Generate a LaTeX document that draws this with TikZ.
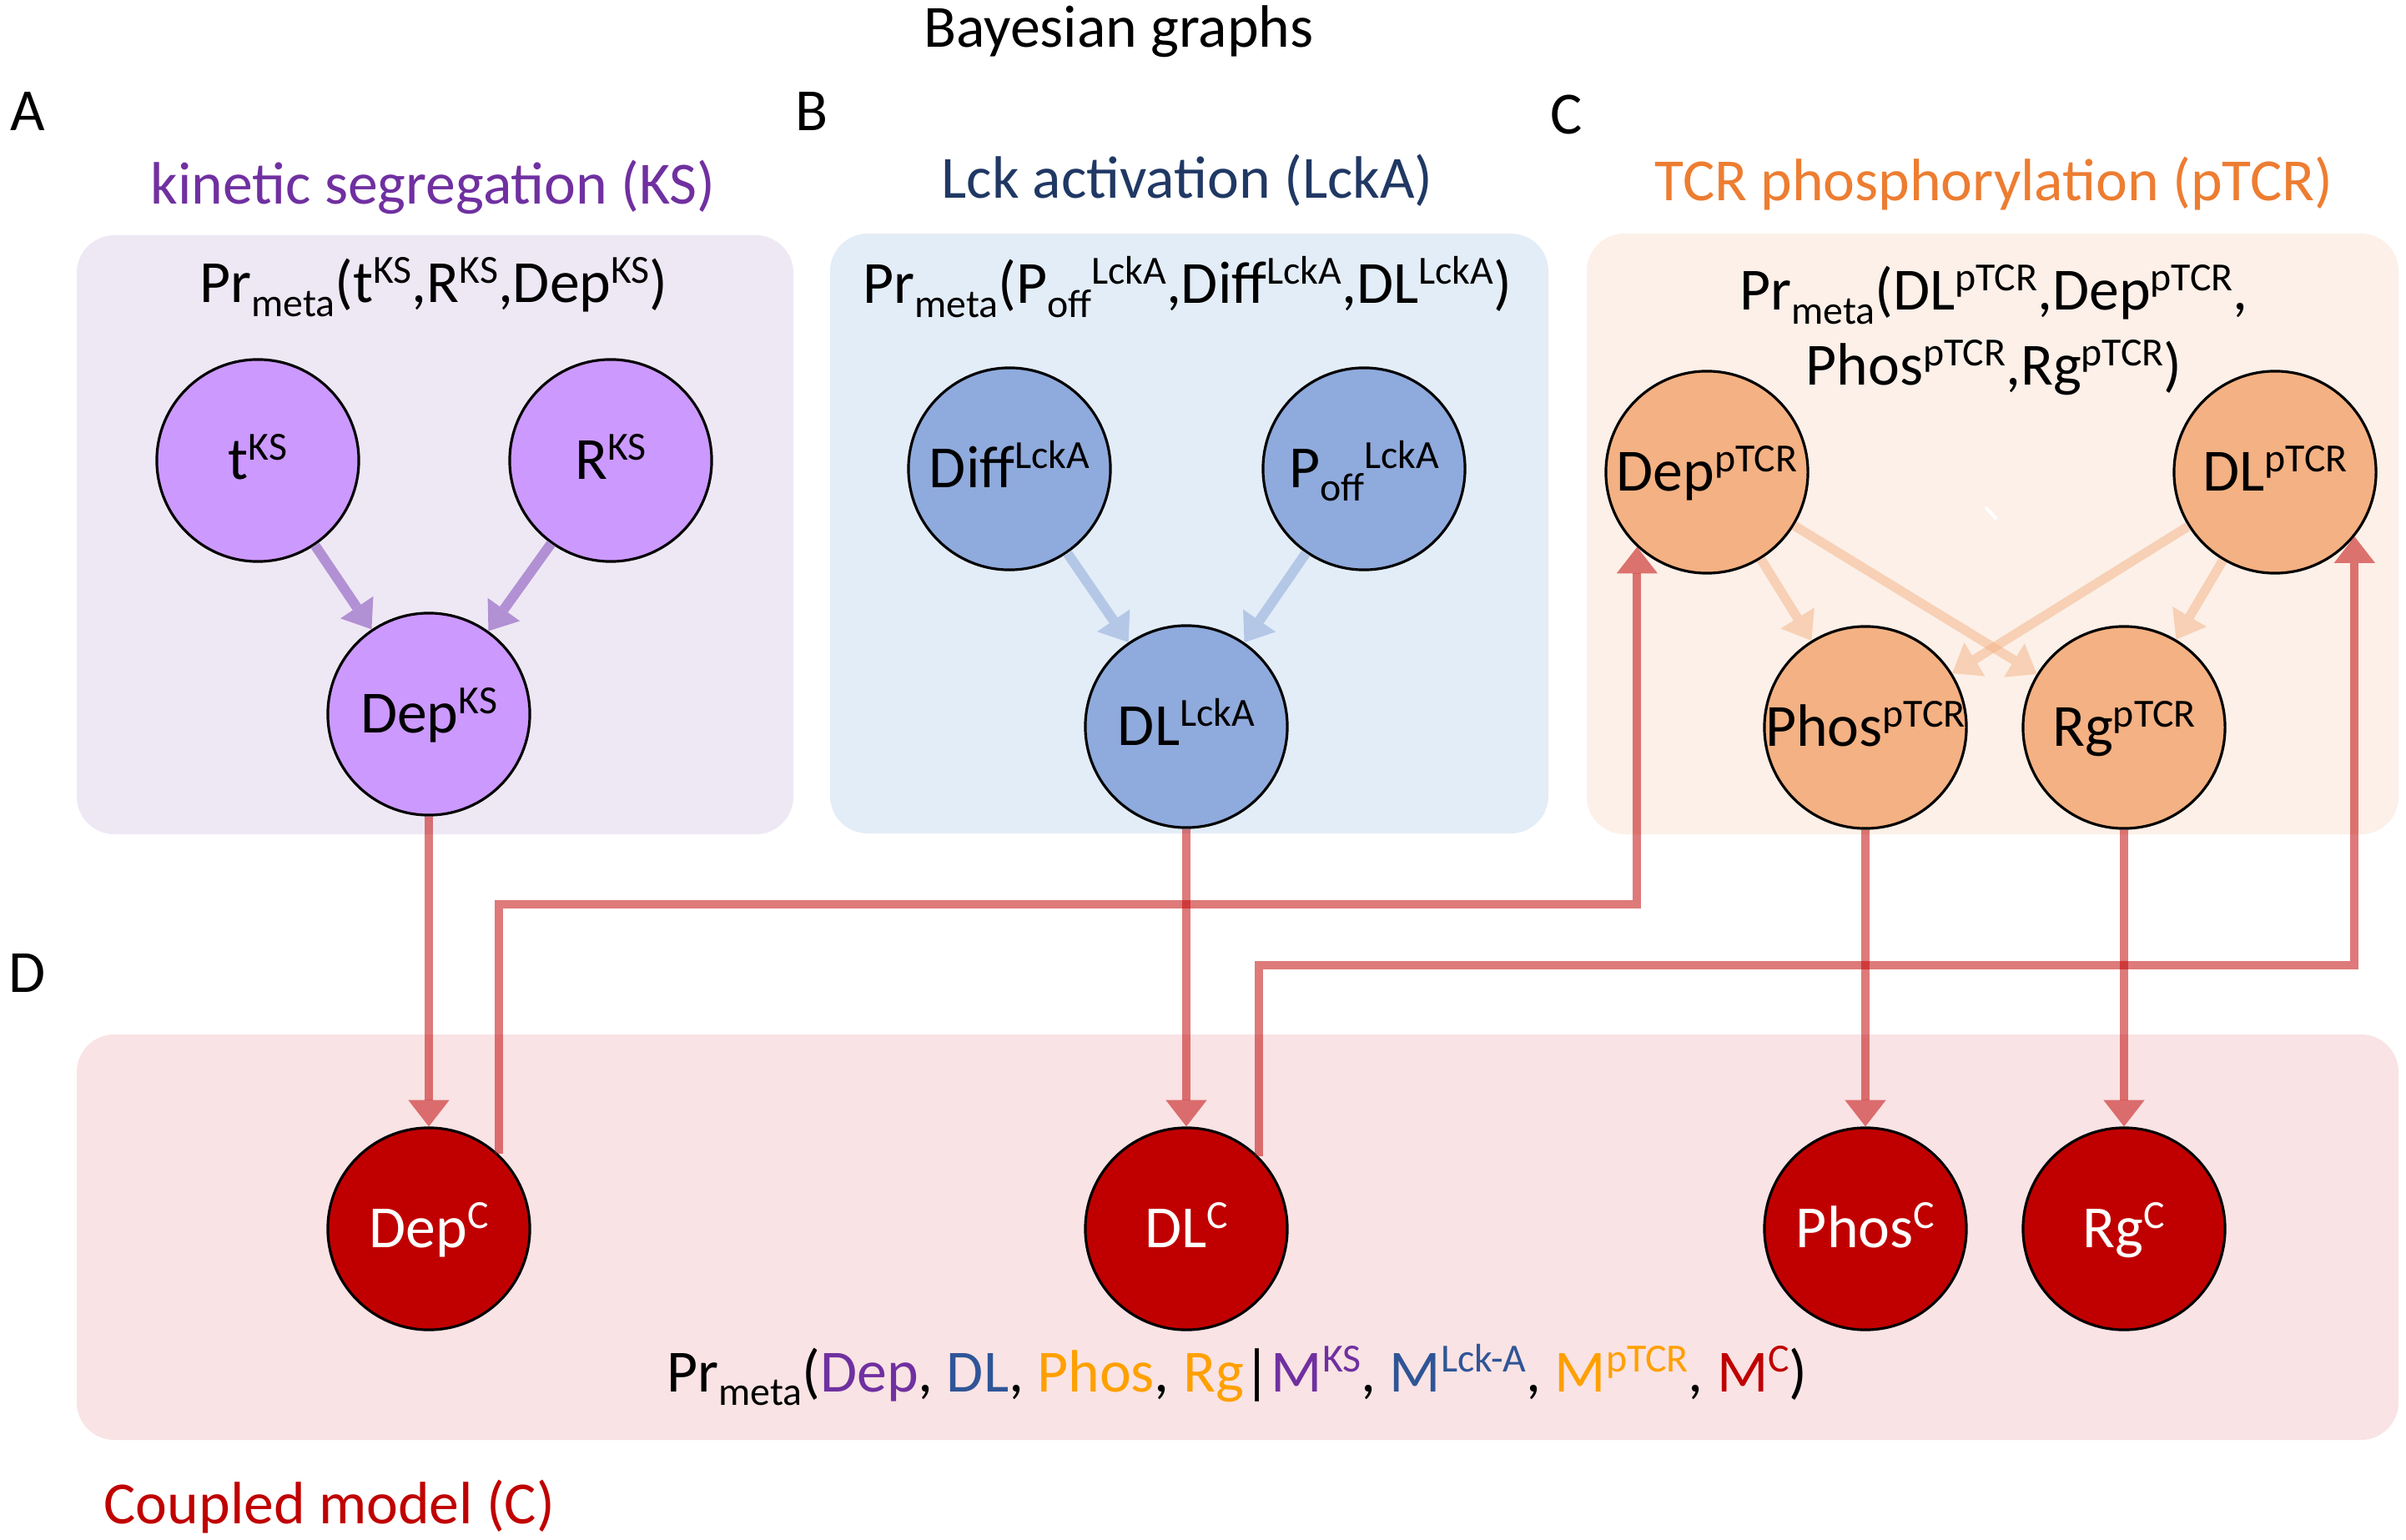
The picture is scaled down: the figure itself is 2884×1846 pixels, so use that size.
\documentclass[tikz,border=0pt]{standalone}
\usepackage{fontspec}
\setmainfont{Carlito}
\usetikzlibrary{arrows.meta}
\definecolor{ksP}{HTML}{7030A0}
\definecolor{lckT}{HTML}{203864}
\definecolor{lckD}{HTML}{2F5597}
\definecolor{tcrT}{HTML}{ED7D31}
\definecolor{tcrD}{HTML}{FFA000}
\definecolor{cR}{HTML}{C00000}
\definecolor{bgA}{HTML}{EEE8F4}
\definecolor{bgB}{HTML}{E3EDF7}
\definecolor{bgC}{HTML}{FCF0E8}
\definecolor{bgD}{HTML}{F9E3E4}
\definecolor{fillA}{HTML}{CC99FF}
\definecolor{fillB}{HTML}{8FAADC}
\definecolor{fillC}{HTML}{F4B183}
\definecolor{arrAcol}{RGB}{178,144,212}
\definecolor{arrBcol}{RGB}{180,199,231}
\newcommand\SU[1]{\raisebox{6.6pt}{\fontsize{13.6}{14}\selectfont #1}}
\newcommand\SB[1]{\raisebox{-4.6pt}{\fontsize{13.6}{14}\selectfont #1}}
\tikzset{
  txt/.style={font=\fontsize{20.4}{24}\selectfont, inner sep=0pt},
  panel/.style={rounded corners=0.45cm, draw=none},
  circ/.style={circle, draw=black, line width=0.9pt, minimum size=2.42cm, inner sep=0pt},
  ksnode/.style={circ, fill=fillA},
  lcknode/.style={circ, fill=fillB},
  tcrnode/.style={circ, fill=fillC},
  cnode/.style={circ, fill=cR},
  lbl/.style={txt, text height=0.6cm, text depth=0.15cm},
  arrA/.style={draw=arrAcol, line width=3.4pt, -{Triangle[width=13.5pt,length=9pt,line width=0pt]}},
  arrB/.style={draw=arrBcol, line width=3.4pt, -{Triangle[width=13.5pt,length=9pt,line width=0pt]}},
  arrC/.style={draw=fillC, opacity=0.5, line width=3.2pt, -{Triangle[width=13.5pt,length=9pt,line width=0pt]}},
  redarr/.style={draw=cR, opacity=0.52, line width=2.85pt, -{Triangle[width=14pt,length=9pt,line width=0pt]}},
}
\begin{document}
\begin{tikzpicture}[x=0.01cm,y=-0.01cm]
\useasboundingbox (0,0) rectangle (2884,1846);
\fill[white] (0,0) rectangle (2884,1846);

% panels
\fill[panel, bgA] (92,282) rectangle (951,1000);
\fill[panel, bgB] (995,280) rectangle (1856,999);
\fill[panel, bgC] (1902,280) rectangle (2875,1000);
\fill[panel, bgD] (92,1240) rectangle (2875,1726);
\draw[white, line width=1.2pt, line cap=round] (2381,609) -- (2392,621);

% headings
\node[txt, anchor=base] (title) at (1341,57) {Bayesian graphs};
\node[txt, anchor=base west] (labA) at (12,157) {A};
\node[txt, anchor=base west] (labB) at (953,157) {B};
\node[txt, anchor=base west] (labC) at (1858,161) {C};
\node[txt, anchor=base west] (labD) at (10,1189) {D};
\node[txt, anchor=base, text=ksP] (tA) at (519,245) {kinetic segregation (KS)};
\node[txt, anchor=base, text=lckT] (tB) at (1423,238) {Lck activation (LckA)};
\node[txt, anchor=base, text=tcrT] (tC) at (2390,241) {TCR phosphorylation (pTCR)};
\node[txt, anchor=base west, text=cR] (tD) at (124,1826) {Coupled model (C)};

% formulas
\node[txt, anchor=base] (fA) at (520,363) {Pr\SB{meta}(t\SU{KS},R\SU{KS},Dep\SU{KS})};
\node[txt, anchor=base] (fB) at (1423,364) {Pr\SB{meta}(P\SB{off}\SU{LckA},Diff\SU{LckA},DL\SU{LckA})};
\node[txt, anchor=base] (fC1) at (2390,372) {Pr\SB{meta}(DL\SU{pTCR},Dep\SU{pTCR},};
\node[txt, anchor=base] (fC2) at (2390,462) {Phos\SU{pTCR},Rg\SU{pTCR})};
\node[txt, anchor=base] (fD) at (1483,1668) {Pr\SB{meta}(\textcolor{ksP}{Dep}, \textcolor{lckD}{DL}, \textcolor{tcrD}{Phos}, \textcolor{tcrD}{Rg}|\textcolor{ksP}{M\SU{KS}}, \textcolor{lckD}{M\SU{Lck-A}}, \textcolor{tcrD}{M\SU{pTCR}}, \textcolor{cR}{M\SU{C}})};

% circles
\node[ksnode] (tKS) at (309,552) {};
\node[ksnode] (RKS) at (732,552) {};
\node[ksnode] (DepKS) at (514,856) {};
\node[lcknode] (Diff) at (1210,562) {};
\node[lcknode] (Poff) at (1635,562) {};
\node[lcknode] (DLL) at (1422,871) {};
\node[tcrnode] (DepT) at (2046,566) {};
\node[tcrnode] (DLT) at (2727,566) {};
\node[tcrnode] (PhosT) at (2236,872) {};
\node[tcrnode] (RgT) at (2546,872) {};
\node[cnode] (DepC) at (514,1473) {};
\node[cnode] (DLC) at (1422,1473) {};
\node[cnode] (PhosC) at (2236,1473) {};
\node[cnode] (RgC) at (2546,1473) {};

% labels
\node[lbl] (tKSl) at (tKS) {t\SU{KS}};
\node[lbl] (RKSl) at (RKS) {R\SU{KS}};
\node[lbl] (DepKSl) at (DepKS) {Dep\SU{KS}};
\node[lbl] (Diffl) at (Diff) {Diff\SU{LckA}};
\node[lbl] (Poffl) at (Poff) {P\SB{off}\SU{LckA}};
\node[lbl] (DLLl) at (DLL) {DL\SU{LckA}};
\node[lbl] (DepTl) at (DepT) {Dep\SU{pTCR}};
\node[lbl] (DLTl) at (DLT) {DL\SU{pTCR}};
\node[lbl] (PhosTl) at (PhosT) {Phos\SU{pTCR}};
\node[lbl] (RgTl) at (RgT) {Rg\SU{pTCR}};
\node[lbl, text=white] (DepCl) at (DepC) {Dep\SU{C}};
\node[lbl, text=white] (DLCl) at (DLC) {DL\SU{C}};
\node[lbl, text=white] (PhosCl) at (PhosC) {Phos\SU{C}};
\node[lbl, text=white] (RgCl) at (RgC) {Rg\SU{C}};

% inner arrows
\draw[arrA] (tKS) -- (DepKS);
\draw[arrA] (RKS) -- (DepKS);
\draw[arrB] (Diff) -- (DLL);
\draw[arrB] (Poff) -- (DLL);
\draw[arrC] (DepT) -- (PhosT);
\draw[arrC] (DepT) -- (RgT);
\draw[arrC] (DLT) -- (PhosT);
\draw[arrC] (DLT) -- (RgT);

% coupling arrows
\coordinate (busA) at (0,1084);
\coordinate (busB) at (0,1157);
\draw[redarr] (DepKS) -- (DepC);
\draw[redarr] (DLL) -- (DLC);
\draw[redarr] (PhosT) -- (PhosC);
\draw[redarr] (RgT) -- (RgC);
\draw[redarr] (DepC.47) -- (DepC.47 |- busA) -- (DepT.227 |- busA) -- (DepT.227);
\draw[redarr] (DLC.45) -- (DLC.45 |- busB) -- (DLT.-39 |- busB) -- (DLT.-39);
\end{tikzpicture}
\end{document}
